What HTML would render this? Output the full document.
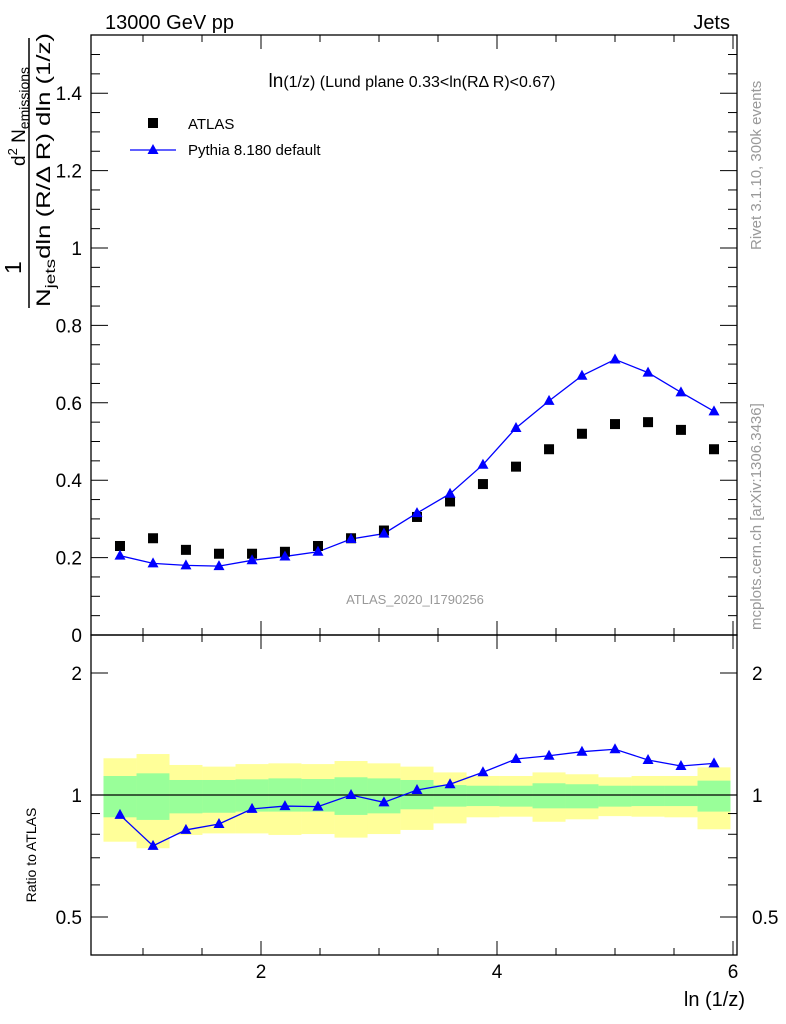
<!DOCTYPE html>
<html><head><meta charset="utf-8"><style>
body{margin:0;background:#fff}
svg{display:block;font-family:"Liberation Sans",sans-serif}
</style></head><body>
<svg id="s" width="786" height="1024" xmlns="http://www.w3.org/2000/svg">
<text x="105" y="29" font-size="20">13000 GeV pp</text>
<text x="730" y="29" font-size="20" text-anchor="end">Jets</text>
<text x="412" y="87" font-size="16" text-anchor="middle"><tspan font-size="19">ln</tspan>(1/z) (Lund plane 0.33&lt;ln(RΔ R)&lt;0.67)</text>
<text x="415" y="604" font-size="13" fill="#999" text-anchor="middle">ATLAS_2020_I1790256</text>
<text transform="translate(761,250) rotate(-90)" font-size="15" fill="#999">Rivet 3.1.10,  300k events</text>
<text transform="translate(761,630) rotate(-90)" font-size="15" fill="#999">mcplots.cern.ch [arXiv:1306.3436]</text>
<g>
<text transform="translate(21,274) rotate(-90)" font-size="23">1</text>
<line x1="29" y1="38" x2="29" y2="308" stroke="#000" stroke-width="1.5"/>
<text transform="translate(25,166) rotate(-90)" font-size="19">d<tspan font-size="13" dy="-8">2</tspan><tspan dy="8"> N</tspan><tspan font-size="14" dy="4">emissions</tspan></text>
<text transform="translate(50,307) rotate(-90)" font-size="19" textLength="274" lengthAdjust="spacingAndGlyphs">N<tspan font-size="14" dy="5">jets</tspan><tspan dy="-5">dln (R/Δ R) dln (1/z)</tspan></text>
</g>
<text transform="translate(36,855) rotate(-90)" font-size="14" text-anchor="middle">Ratio to ATLAS</text>
<text x="745" y="1006" font-size="20" text-anchor="end">ln (1/z)</text>
<g>
<rect x="148" y="118" width="10" height="10" fill="#000"/>
<text x="188" y="129" font-size="15">ATLAS</text>
<line x1="130" y1="150" x2="176" y2="150" stroke="#00f" stroke-width="1.3"/>
<polygon points="153,144 147.5,154 158.5,154" fill="#00f"/>
<text x="188" y="155" font-size="15">Pythia 8.180 default</text>
</g>
<g id="g"></g>
</svg>
<script>
const xCenters=[0.805,1.085,1.364,1.644,1.924,2.203,2.483,2.763,3.042,3.322,3.602,3.881,4.161,4.441,4.720,5.000,5.280,5.559,5.839];
const atlas=[0.23,0.25,0.22,0.21,0.21,0.215,0.23,0.25,0.27,0.305,0.345,0.39,0.435,0.48,0.52,0.545,0.55,0.53,0.48];
const pythia=[0.205,0.185,0.18,0.178,0.193,0.203,0.215,0.248,0.262,0.315,0.365,0.44,0.535,0.605,0.67,0.712,0.678,0.627,0.578];
const ratio=[0.893,0.749,0.820,0.848,0.924,0.939,0.936,1.0,0.959,1.029,1.063,1.138,1.227,1.250,1.279,1.297,1.220,1.179,1.197];
const yelHi=[1.232,1.262,1.186,1.175,1.192,1.197,1.192,1.213,1.197,1.175,1.137,1.114,1.114,1.137,1.125,1.106,1.114,1.114,1.170];
const yelLo=[0.767,0.739,0.797,0.804,0.804,0.797,0.801,0.785,0.801,0.820,0.851,0.881,0.884,0.859,0.871,0.887,0.884,0.881,0.823];
const grnHi=[1.114,1.131,1.089,1.089,1.093,1.099,1.095,1.106,1.099,1.089,1.058,1.054,1.054,1.069,1.063,1.054,1.054,1.054,1.085];
const grnLo=[0.881,0.868,0.901,0.904,0.910,0.910,0.910,0.893,0.901,0.922,0.936,0.939,0.936,0.927,0.927,0.936,0.939,0.939,0.910];
const xTicks=[2,4,6];
const yTicks=[0,0.2,0.4,0.6,0.8,1,1.2,1.4];
const rTicks=[0.5,1,2];
const binW=0.2797;
const X=v=>25+118*v, Y=v=>635-387*v, R=v=>795-122*Math.log2(v);
const L=91,Rt=737,T=35,M=635,B=955;
const g=document.getElementById('g');const NS='http://www.w3.org/2000/svg';
function el(t,a,name){const e=document.createElementNS(NS,t);for(const k in a)e.setAttribute(k,a[k]);


g.appendChild(e);return e;}
xCenters.forEach((c,i)=>{const x0=X(c-binW/2),w=X(c+binW/2)-x0;
el('rect',{x:x0,y:R(yelHi[i]),width:w,height:R(yelLo[i])-R(yelHi[i]),fill:'#ffff99'},'yellow-band');
el('rect',{x:x0,y:R(grnHi[i]),width:w,height:R(grnLo[i])-R(grnHi[i]),fill:'#99ff99'},'green-band');});
el('line',{x1:L,y1:R(1),x2:Rt,y2:R(1),stroke:'#000','stroke-width':1.3},'ratio-unity-line');
el('rect',{x:L,y:T,width:Rt-L,height:M-T,fill:'none',stroke:'#000','stroke-width':1.3},'main-frame');
el('rect',{x:L,y:M,width:Rt-L,height:B-M,fill:'none',stroke:'#000','stroke-width':1.3},'ratio-frame');
for(let v=1;v<=6.01;v+=0.5){const maj=Math.abs(v-Math.round(v))<0.01&&Math.round(v)%2==0;const len=maj?14:7;
[[M,-1],[T,1],[B,-1],[M,1]].forEach(([y,d])=>el('line',{x1:X(v),y1:y,x2:X(v),y2:y+d*len,stroke:'#000'},'x-tick'));}
xTicks.forEach(v=>{const t=el('text',{x:X(v),y:978,'font-size':19,'text-anchor':'middle'},'x-tick-label');t.textContent=v;});
for(let v=0;v<=1.55;v+=0.05){const maj=Math.abs(v*5-Math.round(v*5))<0.01;const len=maj?17:9;
el('line',{x1:L,y1:Y(v),x2:L+len,y2:Y(v),stroke:'#000'},'y-tick');el('line',{x1:Rt,y1:Y(v),x2:Rt-len,y2:Y(v),stroke:'#000'},'y-tick');}
yTicks.forEach(v=>{const t=el('text',{x:82,y:Y(v)+7,'font-size':19,'text-anchor':'end'},'y-tick-label');t.textContent=v;});
[0.5,0.6,0.7,0.8,0.9,1,2].forEach(v=>{const len=(v==0.5||v==1||v==2)?17:9;
el('line',{x1:L,y1:R(v),x2:L+len,y2:R(v),stroke:'#000'},'ratio-tick');el('line',{x1:Rt,y1:R(v),x2:Rt-len,y2:R(v),stroke:'#000'},'ratio-tick');});
rTicks.forEach(v=>{const t=el('text',{x:82,y:R(v)+7,'font-size':19,'text-anchor':'end'},'ratio-tick-label');t.textContent=v;
const t2=el('text',{x:752,y:R(v)+7,'font-size':19},'ratio-tick-label-right');t2.textContent=v;});
el('polyline',{points:xCenters.map((c,i)=>X(c)+','+Y(pythia[i])).join(' '),fill:'none',stroke:'#00f','stroke-width':1.3},'pythia-line');
el('polyline',{points:xCenters.map((c,i)=>X(c)+','+R(ratio[i])).join(' '),fill:'none',stroke:'#00f','stroke-width':1.3},'ratio-line');
const tri=(x,y)=>`${x},${y-6} ${x-5.5},${y+4} ${x+5.5},${y+4}`;
xCenters.forEach((c,i)=>{
el('rect',{x:X(c)-5,y:Y(atlas[i])-5,width:10,height:10,fill:'#000'},'atlas-point');
el('polygon',{points:tri(X(c),Y(pythia[i])),fill:'#00f'},'pythia-point');
el('polygon',{points:tri(X(c),R(ratio[i])),fill:'#00f'},'ratio-point');});
</script>
</body></html>
